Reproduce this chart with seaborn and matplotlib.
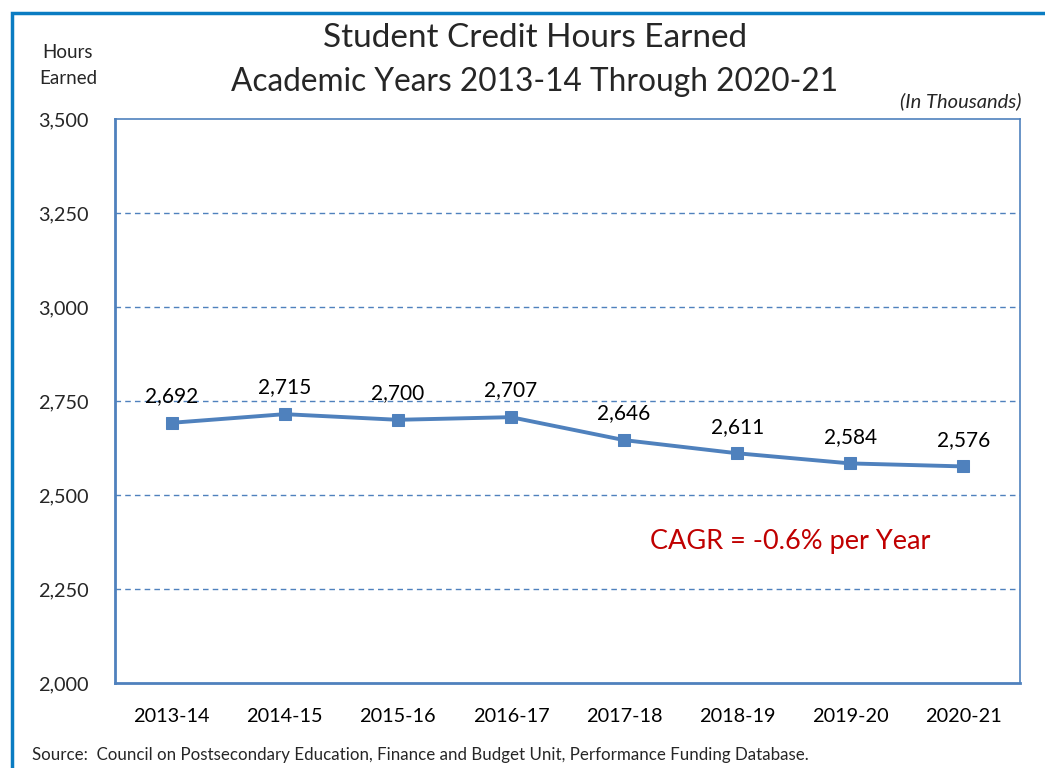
import matplotlib
matplotlib.use("Agg")
import matplotlib.pyplot as plt
import seaborn as sns
import pandas as pd
from matplotlib.patches import Rectangle
from matplotlib.ticker import FixedLocator, FuncFormatter

years = ["2013-14", "2014-15", "2015-16", "2016-17", "2017-18", "2018-19", "2019-20", "2020-21"]
hours = [2692, 2715, 2700, 2707, 2646, 2611, 2584, 2576]
yticks = [2000, 2250, 2500, 2750, 3000, 3250, 3500]

sns.set_theme(style="white")
plt.rcParams['font.family'] = ['Lato', 'DejaVu Sans']

BLUE = "#4f81bd"
df = pd.DataFrame({"x": range(len(years)), "hours": hours})

fig = plt.figure(figsize=(10.45, 7.68), dpi=100)
ax = fig.add_axes([115/1045, 1-683/768, (1020-115)/1045, (683-119)/768])

sns.lineplot(data=df, x="x", y="hours", ax=ax, color=BLUE, lw=2.8,
             marker="s", markersize=8, markeredgecolor=BLUE, markerfacecolor=BLUE)

ax.set_xlim(-0.5, len(years) - 0.5)
ax.set_ylim(2000, 3500)
ax.set_yticks(yticks)
ax.yaxis.set_major_formatter(FuncFormatter(lambda v, p: f"{int(v):,}"))
ax.set_xticks(range(len(years)))
ax.set_xticklabels(years)
ax.xaxis.set_minor_locator(FixedLocator([i - 0.5 for i in range(len(years) + 1)]))
ax.tick_params(axis="x", which="major", length=0, labelsize=14.3, pad=18, colors="black")
ax.tick_params(axis="x", which="minor", length=7, width=1.5, color=BLUE, direction="out")
ax.tick_params(axis="y", which="major", length=7, width=1.5, color=BLUE, direction="out",
               labelsize=14.3, pad=12)
ax.set_xlabel("")
ax.set_ylabel("")

for y in yticks[1:-1]:
    ax.axhline(y, color=BLUE, lw=1, ls=(0, (4, 3)), zorder=0)

for s in ["left", "bottom"]:
    ax.spines[s].set_color(BLUE)
    ax.spines[s].set_linewidth(2)
for s in ["top", "right"]:
    ax.spines[s].set_color(BLUE)
    ax.spines[s].set_linewidth(1.2)

for i, v in enumerate(hours):
    ax.annotate(f"{v:,}", (i, v), xytext=(0, 12), textcoords="offset points",
                ha="center", va="bottom", fontsize=15, color="black")

ax.text(5.47, 2375, "CAGR = -0.6% per Year", color="#c00000", fontsize=19.5,
        ha="center", va="center")

fig.text(535/1045, 1-38/768, "Student Credit Hours Earned", ha="center", va="center", fontsize=24)
fig.text(535/1045, 1-82/768, "Academic Years 2013-14 Through 2020-21", ha="center", va="center", fontsize=22.8)
fig.text(1022/1045, 1-101/768, "(In Thousands)", ha="right", va="center", fontsize=14.5, style="italic")
fig.text(68/1045, 1-53/768, "Hours", ha="center", va="center", fontsize=13.5)
fig.text(68/1045, 1-78/768, "Earned", ha="center", va="center", fontsize=13.5)
fig.text(32/1045, 1-755/768, "Source:  Council on Postsecondary Education, Finance and Budget Unit, Performance Funding Database.",
         ha="left", va="center", fontsize=12.2)

fig.patches.append(Rectangle((12/1045, -0.1), 1.2, 1 - 13/768 + 0.1, transform=fig.transFigure,
                             fill=False, edgecolor="#0a7cc2", lw=2.5, zorder=0))

fig.savefig("out.png", dpi=100, facecolor="white")
